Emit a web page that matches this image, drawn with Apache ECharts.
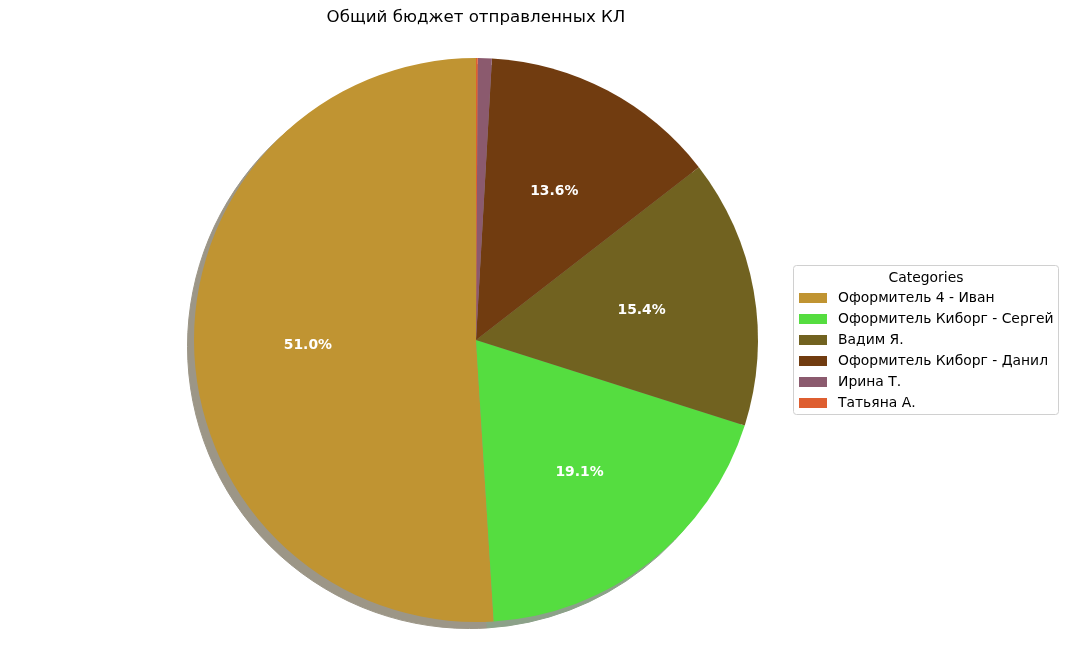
<!DOCTYPE html>
<html>
<head>
<meta charset="utf-8">
<script src="https://cdn.jsdelivr.net/npm/echarts@6/dist/echarts.min.js"></script>
<style>html,body{margin:0;padding:0;background:#fff;}#c{width:1068px;height:658px;}</style>
</head>
<body>
<div id="c"></div>
<script>
const categories = ['Оформитель 4 - Иван', 'Оформитель Киборг - Сергей', 'Вадим Я.', 'Оформитель Киборг - Данил', 'Ирина Т.', 'Татьяна А.'];
const values = [51.0, 19.1, 15.4, 13.6, 0.8, 0.1];
const colors = ['#c09432', '#55dd40', '#716220', '#713c10', '#8b5a6e', '#de5e30'];
const titleText = 'Общий бюджет отправленных КЛ';
const legendTitle = 'Categories';

function shadowColor(hex) {
  const r = parseInt(hex.substr(1, 2), 16), g = parseInt(hex.substr(3, 2), 16), b = parseInt(hex.substr(5, 2), 16);
  const f = c => Math.round(0.3 * c * 0.5 + 255 * 0.5);
  return 'rgb(' + f(r) + ',' + f(g) + ',' + f(b) + ')';
}

const cx = 476, cy = 340, R = 282, so = 6.5;
const font = 'DejaVu Sans';

const mainData = categories.map((n, i) => ({ name: n, value: values[i], itemStyle: { color: colors[i] } }));
const shadowData = categories.map((n, i) => ({ name: n, value: values[i], itemStyle: { color: shadowColor(colors[i]), borderColor: shadowColor(colors[i]) } }));
const labelData = categories.map((n, i) => ({ name: n, value: values[i] }));

const chart = echarts.init(document.getElementById('c'), null, { renderer: 'canvas' });
chart.setOption({
  animation: false,
  backgroundColor: '#fff',
  legend: {
    orient: 'vertical',
    left: 799, top: 291,
    padding: 0,
    itemWidth: 28, itemHeight: 10, itemGap: 7,
    icon: 'rect',
    selectedMode: false,
    textStyle: { fontFamily: font, fontSize: 13.9, color: '#000', lineHeight: 14, padding: [0, 0, 0, 6] },
    data: categories.map((n, i) => ({ name: n, itemStyle: { color: colors[i] } }))
  },
  graphic: [
    { type: 'text', x: cx, y: 18, style: { text: titleText, fontFamily: font, fontSize: 16.67, fill: '#000', textAlign: 'center', textVerticalAlign: 'middle' } },
    { type: 'rect', x: 793.5, y: 265.5, shape: { width: 265, height: 149, r: 3 }, style: { fill: '#fff', stroke: '#d0d0d0', lineWidth: 1 }, z: -1 },
    { type: 'text', x: 926, y: 278, style: { text: legendTitle, fontFamily: font, fontSize: 13.9, fill: '#000', textAlign: 'center', textVerticalAlign: 'middle' } }
  ],
  series: [
    {
      type: 'pie', name: 'main', z: 3,
      center: [cx, cy], radius: [0, R],
      startAngle: 90, clockwise: false,
      silent: true,
      label: { show: false }, labelLine: { show: false },
      itemStyle: { borderWidth: 0 },
      data: mainData
    },
    {
      type: 'pie', name: 'shadow', z: 1,
      center: [cx - so, cy + so], radius: [0, R],
      startAngle: 90, clockwise: false,
      silent: true,
      label: { show: false }, labelLine: { show: false },
      itemStyle: { borderWidth: 1 },
      data: shadowData
    },
    {
      type: 'pie', name: 'labels', z: 4,
      center: [cx, cy], radius: [R * 0.2 - 8, R],
      startAngle: 90, clockwise: false,
      silent: true,
      itemStyle: { color: 'rgba(0,0,0,0)', borderWidth: 0 },
      labelLine: { show: false },
      label: {
        show: true, position: 'inside',
        fontFamily: font, fontSize: 13.9, fontWeight: 'bold', color: '#fff',
        formatter: p => p.percent < 1 ? '' : p.percent.toFixed(1) + '%'
      },
      data: labelData
    }
  ]
});
</script>
</body>
</html>
